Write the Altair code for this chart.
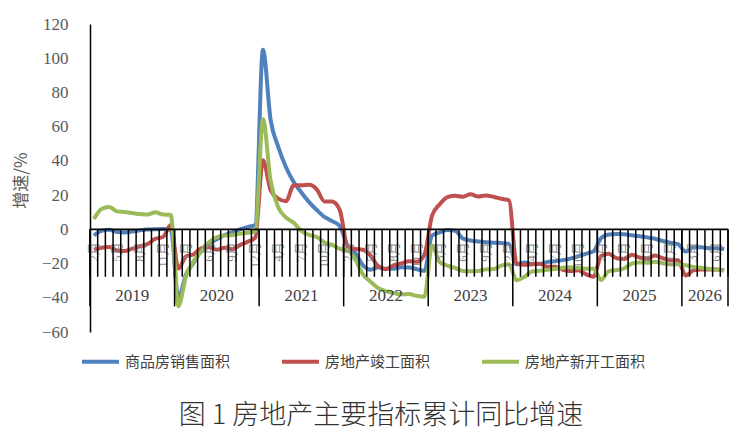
import altair as alt
import pandas as pd

years = ["2019", "2020", "2021", "2022", "2023", "2024", "2025", "2026"]
months = [list(range(2, 13))] * 7 + [list(range(2, 8))]
series_names = ["商品房销售面积", "房地产竣工面积", "房地产新开工面积"]
series_colors = ["#4F81BD", "#C0504D", "#9BBB59"]
y_ticks = [-60, -40, -20, 0, 20, 40, 60, 80, 100, 120]

sales = [
    [-3.6, -0.9, -0.3, -1.6, -1.8, -1.3, -0.6, -0.1, 0.1, 0.2, -0.1],
    [-39.9, -26.3, -19.3, -12.3, -8.4, -5.8, -3.3, -1.8, 0.0, 1.3, 2.6],
    [104.9, 63.8, 48.1, 36.3, 27.7, 21.5, 15.9, 11.3, 7.3, 4.8, 1.9],
    [-9.6, -13.8, -20.9, -23.6, -22.2, -23.1, -23.0, -22.2, -22.3, -23.3, -24.3],
    [-3.6, -1.8, -0.4, -0.9, -5.3, -6.5, -7.1, -7.5, -7.8, -8.0, -8.5],
    [-20.5, -19.4, -20.2, -20.3, -19.0, -18.6, -18.0, -17.1, -15.8, -14.3, -12.9],
    [-5.1, -3.0, -2.8, -2.9, -3.5, -4.0, -4.7, -5.5, -6.8, -7.8, -8.7],
    [-13.0, -10.5, -10.5, -11.0, -11.0, -11.5],
]
completed = [
    [-11.9, -10.8, -10.3, -12.4, -12.7, -11.3, -10.0, -8.6, -5.5, -4.5, 2.6],
    [-22.9, -15.8, -14.5, -11.0, -10.5, -11.9, -10.8, -11.6, -9.2, -7.3, -4.9],
    [40.4, 22.9, 17.9, 16.4, 25.7, 25.7, 26.0, 23.4, 16.3, 16.2, 11.2],
    [-9.8, -11.5, -11.9, -15.3, -21.5, -23.3, -21.1, -19.9, -18.7, -19.0, -15.0],
    [8.0, 14.7, 18.8, 19.6, 19.0, 20.5, 19.2, 19.8, 19.0, 17.9, 17.0],
    [-20.2, -20.7, -20.4, -20.1, -21.8, -21.8, -23.6, -24.4, -23.9, -26.2, -27.7],
    [-15.6, -14.3, -16.9, -17.3, -14.8, -16.5, -17.0, -15.3, -16.9, -18.0, -18.1],
    [-27.0, -24.0, -23.5, -23.5, -23.5, -24.0],
]
new_start = [
    [6.0, 11.9, 13.1, 10.5, 10.1, 9.5, 8.9, 8.6, 10.0, 8.6, 8.5],
    [-44.9, -27.2, -18.4, -12.8, -7.6, -4.5, -3.6, -3.4, -2.5, -2.0, -1.2],
    [64.3, 28.2, 12.8, 6.9, 3.8, -0.9, -3.2, -4.5, -7.7, -9.1, -11.4],
    [-12.2, -17.5, -26.3, -30.6, -34.4, -36.1, -37.2, -38.0, -37.8, -38.9, -39.4],
    [-9.4, -19.2, -21.2, -22.6, -24.3, -24.5, -24.4, -23.4, -23.2, -21.2, -20.4],
    [-29.7, -27.8, -24.6, -24.2, -23.7, -23.2, -22.5, -22.2, -22.6, -23.0, -23.0],
    [-29.6, -24.4, -23.8, -22.8, -20.0, -19.4, -19.5, -18.9, -19.8, -20.5, -20.4],
    [-21.0, -22.0, -22.5, -23.0, -23.5, -24.0],
]

# ---- build tables ----
line_rows, label_rows, year_rows, bounds = [], [], [], [0]
k = 0
for yi, yr in enumerate(years):
    start = k
    for mi, m in enumerate(months[yi]):
        if k % 3 == 0:
            label_rows.append({"x": k + 0.5, "label": f"{m}月"})
        k += 1
    year_rows.append({"xc": (start + k) / 2, "year": yr})
    bounds.append(k)
n_cat = k

for name, data in zip(series_names, [sales, completed, new_start]):
    i = 0
    for yi, vals in enumerate(data):
        for v in vals:
            line_rows.append({"x": i + 0.5, "value": v, "series": name})
            i += 1

df_lines = pd.DataFrame(line_rows)
df_labels = pd.DataFrame(label_rows)
df_years = pd.DataFrame(year_rows)
df_ticks = pd.DataFrame({"k": list(range(n_cat + 1))})
df_bounds = pd.DataFrame({"k": bounds})
df_axis = pd.DataFrame({"a": [0], "b": [n_cat]})

xs = alt.Scale(domain=[0, n_cat], nice=False, zero=False)
ys = alt.Scale(domain=[-60, 120], nice=False, zero=False)

serif = "Liberation Serif"
cjk = "Noto Sans CJK SC"

yaxis = alt.Axis(
    values=y_ticks, grid=False, ticks=False, tickSize=0, domain=True,
    domainColor="black", domainWidth=1.5, labelFont=serif, labelFontSize=17,
    labelColor="#595959", labelPadding=22, labelFlush=False, labelOverlap=False,
    title="增速/%", titleFont=cjk, titleFontSize=17, titleFontWeight="normal",
    titleColor="#595959", titleX=-69, titleY=156, titleAngle=270,
    titleAlign="center", titleBaseline="middle",
)


def ydat(v):
    return alt.YDatum(v, scale=ys, axis=None)


lines = alt.Chart(df_lines).mark_line(strokeWidth=4, interpolate="monotone").encode(
    x=alt.X("x:Q", scale=xs, axis=None),
    y=alt.Y("value:Q", scale=ys, axis=yaxis),
    color=alt.Color(
        "series:N",
        scale=alt.Scale(domain=series_names, range=series_colors),
        sort=series_names,
        legend=alt.Legend(
            title=None, orient="none", legendX=-10, legendY=317,
            direction="horizontal", columns=3, columnPadding=28, gridAlign="all",
            symbolType="stroke", symbolSize=1369, symbolStrokeWidth=4,
            labelFont=cjk, labelFontSize=15, labelColor="#404040",
            labelOffset=4, labelLimit=0, padding=0,
        ),
    ),
)

month_labels = alt.Chart(df_labels).mark_text(
    angle=270, align="right", baseline="middle", fontSize=13,
    color="#8c8c8c", font="Liberation Serif, Noto Sans CJK SC",
).encode(
    x=alt.X("x:Q", scale=xs, axis=None),
    y=ydat(-7.5),
    text="label:N",
)

ticks = alt.Chart(df_ticks).mark_rule(color="black", strokeWidth=1.5).encode(
    x=alt.X("k:Q", scale=xs, axis=None),
    y=ydat(0),
    y2=alt.Y2Datum(-27.7),
)

seps = alt.Chart(df_bounds).mark_rule(color="black", strokeWidth=1.5).encode(
    x=alt.X("k:Q", scale=xs, axis=None),
    y=ydat(0),
    y2=alt.Y2Datum(-45),
)

axis_line = alt.Chart(df_axis).mark_rule(color="black", strokeWidth=1.8).encode(
    x=alt.X("a:Q", scale=xs, axis=None),
    x2="b:Q",
    y=ydat(0),
)

year_labels = alt.Chart(df_years).mark_text(
    align="center", baseline="middle", fontSize=17, color="#404040", font=serif,
).encode(
    x=alt.X("xc:Q", scale=xs, axis=None),
    y=ydat(-38.8),
    text="year:N",
)

chart = alt.layer(lines, month_labels, ticks, seps, axis_line, year_labels).resolve_scale(
    y="independent"
).properties(
    width=638, height=308,
    title=alt.TitleParams(
        "图 1 房地产主要指标累计同比增速", orient="bottom", anchor="middle",
        fontSize=27, font=cjk, fontWeight=300, color="#333333",
        dx=-28, offset=33,
    ),
    autosize=alt.AutoSizeParams(type="none"),
    padding={"left": 82, "top": 16, "right": 9, "bottom": 106},
).configure_view(stroke=None)

chart.save("out.html", embed_options={"renderer": "svg", "actions": False})
